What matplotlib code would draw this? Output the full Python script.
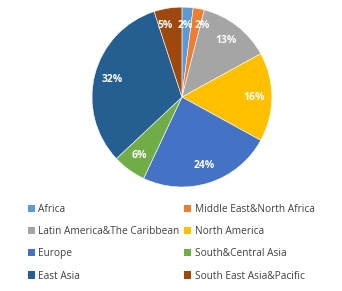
import matplotlib.pyplot as plt

regions = ['Africa', 'Middle East&North Africa', 'Latin America&The Caribbean',
           'North America', 'Europe', 'South&Central Asia', 'East Asia',
           'South East Asia&Pacific']
shares = [2, 2, 13, 16, 24, 6, 32, 5]
colors = ['#5B9BD5', '#ED7D31', '#A5A5A5', '#FFC000', '#4472C4', '#70AD47',
          '#255E91', '#9E480E']

plt.rcParams['font.family'] = ['Open Sans', 'DejaVu Sans']

fig = plt.figure(figsize=(3.42, 2.91), dpi=100)
ax = fig.add_axes([0.269, 0.357, 0.526, 0.619])

wedges, texts, autotexts = ax.pie(
    shares, colors=colors, startangle=90, counterclock=False,
    autopct='%d%%', pctdistance=0.8,
    wedgeprops=dict(edgecolor='#ffffff', linewidth=0.4))
for t in autotexts:
    t.set_color('white')
    t.set_fontweight('bold')
    t.set_fontsize(7.5)
# small slices at the top: spread their labels a little
x0, y0 = autotexts[0].get_position()
autotexts[0].set_position((x0 - 0.01, y0))
x1, y1 = autotexts[1].get_position()
autotexts[1].set_position((x1 + 0.08, y1 + 0.01))
x7, y7 = autotexts[7].get_position()
autotexts[7].set_position((x7 - 0.06, y7))
ax.set_xlim(-1.0, 1.0)
ax.set_ylim(-1.0, 1.0)
ax.set_aspect('equal')

# row-major order like the original legend
order = list(range(0, len(regions), 2)) + list(range(1, len(regions), 2))
leg = fig.legend([wedges[i] for i in order], [regions[i] for i in order],
                 ncol=2, loc='upper left', bbox_to_anchor=(0.055, 0.33),
                 frameon=False, fontsize=7.3, handlelength=0.7, handleheight=0.7,
                 handletextpad=0.3, columnspacing=0.5, labelspacing=1.1,
                 labelcolor='#404040')
for h in leg.legend_handles:
    h.set_edgecolor('none')

fig.savefig('out.png', dpi=100)
